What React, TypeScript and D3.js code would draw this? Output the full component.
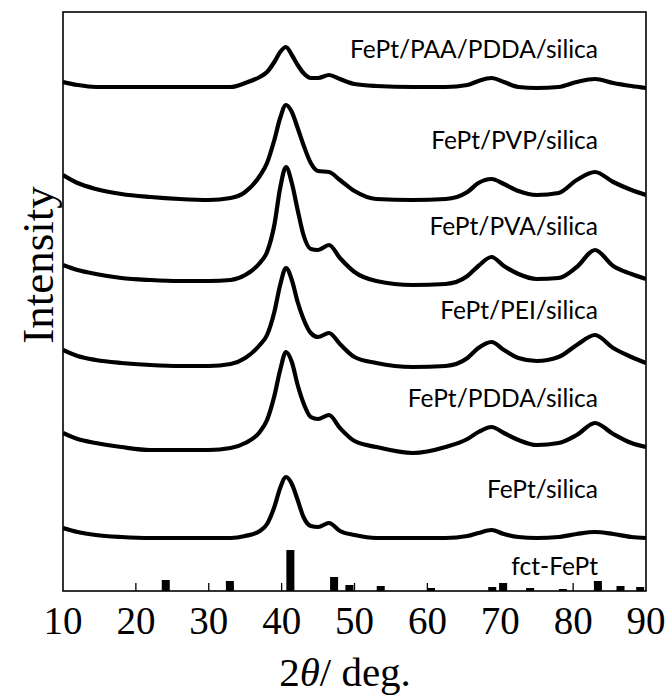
import React from "react";
import * as d3 from "d3";

// 2θ sampling grid (degrees) shared by all measured patterns
const angles = [10, 12, 14.5, 18, 22, 26, 30, 33, 35, 37, 38, 39, 39.8, 40.6, 41.4, 42.2, 43, 44, 45, 46.5, 48, 50, 53, 58, 62.5, 65.5, 67, 68.8, 70.5, 72.5, 75, 78, 80.5, 83, 85.5, 88, 90];

// stacked intensities (arbitrary units, offsets included)
const paaPdda = [509, 506, 504, 504, 504, 504, 504, 504, 508, 514, 519, 529, 539, 544, 536, 526, 518, 513, 513, 516, 512, 507, 505, 504, 504, 506, 510, 513, 509, 504, 503, 504, 509, 512, 508, 505, 503];
const pvp = [416, 408, 402, 397, 394, 392, 391, 393, 399, 415, 428, 451, 473, 486, 479, 463, 446, 428, 420, 419, 411, 400, 392, 391, 392, 399, 408, 412, 407, 400, 396, 398, 411, 419, 409, 401, 396];
const pva = [326, 321, 317, 313, 311, 310, 310, 311, 316, 328, 339, 366, 403, 424, 408, 381, 356, 342, 341, 346, 333, 319, 310, 306, 307, 315, 325, 334, 325, 317, 312, 313, 324, 341, 325, 317, 312];
const pei = [241, 235, 231, 228, 226, 225, 225, 227, 233, 246, 256, 279, 306, 323, 311, 289, 272, 258, 254, 258, 247, 234, 228, 224, 225, 233, 243, 249, 241, 233, 230, 234, 246, 256, 243, 234, 228];
const pdda = [158, 152, 148, 144, 141, 141, 141, 143, 148, 159, 171, 195, 221, 239, 229, 206, 188, 174, 172, 176, 163, 150, 144, 138, 144, 152, 159, 164, 158, 151, 146, 148, 156, 168, 157, 148, 144];
const bare = [63, 59, 56, 54, 53, 53, 53, 53, 55, 60, 67, 84, 103, 114, 107, 91, 74, 65, 64, 68, 60, 56, 53, 53, 53, 55, 58, 61, 57, 54, 53, 54, 57, 59, 57, 54, 53];

const seriesNames = ["FePt/PAA/PDDA/silica", "FePt/PVP/silica", "FePt/PVA/silica", "FePt/PEI/silica", "FePt/PDDA/silica", "FePt/silica"];
const seriesValues = [paaPdda, pvp, pva, pei, pdda, bare];
const labelLevels = [533, 442, 356, 272, 184, 93];

// fct-FePt reference pattern
const refPositions = [24.1, 32.9, 41.2, 47.2, 49.3, 53.6, 60.5, 68.9, 70.4, 74.1, 78.6, 83.4, 86.5, 89.2];
const refHeights = [11, 10, 41, 14, 6, 5, 3, 4, 8, 3, 2, 10, 5, 4];
const refLabel = "fct-FePt";
const refLabelLevel = 16;

const xTicks = [10, 20, 30, 40, 50, 60, 70, 80, 90];

const W = 670;
const H = 697;
const M = { left: 63, top: 12, right: 646, bottom: 591 };

export default function App() {
  const x = d3.scaleLinear().domain([10, 90]).range([M.left, M.right]);
  const y = d3.scaleLinear().domain([0, 579]).range([M.bottom, M.top]);
  const line = d3
    .line<number>()
    .x((_, i) => x(angles[i]))
    .y((v) => y(v))
    .curve(d3.curveMonotoneX);
  const barW = x(11.1) - x(10);
  const labelFont = "Lato, 'Open Sans', sans-serif";
  const serif = "'Liberation Serif', 'Times New Roman', serif";

  return (
    <svg width={W} height={H} style={{ position: "absolute", left: 0, top: 0, background: "#fff" }}>
      <rect x={0} y={0} width={W} height={H} fill="#fff" />
      <defs>
        <clipPath id="plot">
          <rect x={M.left} y={M.top} width={M.right - M.left} height={M.bottom - M.top} />
        </clipPath>
      </defs>
      <g clipPath="url(#plot)">
        {seriesValues.map((vals, k) => (
          <path key={k} d={line(vals) || ""} fill="none" stroke="#000" strokeWidth={4.2} strokeLinejoin="round" />
        ))}
        {refPositions.map((p, i) => (
          <rect key={i} x={x(p) - barW / 2} y={y(refHeights[i])} width={barW} height={y(0) - y(refHeights[i])} fill="#000" />
        ))}
      </g>
      {seriesNames.map((n, k) => (
        <text key={n} x={598} y={y(labelLevels[k])} textAnchor="end" fontFamily={labelFont} fontSize={24.5} fill="#000">
          {n}
        </text>
      ))}
      <text x={598} y={y(refLabelLevel)} textAnchor="end" fontFamily={labelFont} fontSize={24.5} fill="#000">
        {refLabel}
      </text>
      {xTicks.slice(1, -1).map((t) => (
        <line key={t} x1={x(t)} x2={x(t)} y1={M.bottom} y2={M.bottom - 8} stroke="#000" strokeWidth={1.3} />
      ))}
      <rect x={M.left} y={M.top} width={M.right - M.left} height={M.bottom - M.top} fill="none" stroke="#000" strokeWidth={1.6} />
      {xTicks.map((t) => (
        <text key={t} x={x(t)} y={634} textAnchor="middle" fontFamily={serif} fontSize={39} fill="#000">
          {t}
        </text>
      ))}
      <text x={345} y={686} textAnchor="middle" fontFamily={serif} fontSize={41} fill="#000">
        2<tspan fontStyle="italic">θ</tspan>/ deg.
      </text>
      <text transform="translate(53,265) rotate(-90)" textAnchor="middle" fontFamily={serif} fontSize={45} fill="#000">
        Intensity
      </text>
    </svg>
  );
}
